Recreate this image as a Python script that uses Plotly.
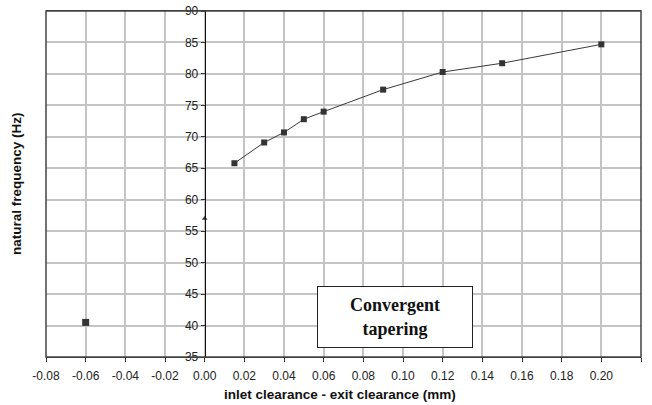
import plotly.graph_objects as go

# Data
conv_x = [0.015, 0.03, 0.04, 0.05, 0.06, 0.09, 0.12, 0.15, 0.20]
conv_y = [65.8, 69.1, 70.7, 72.8, 74.0, 77.5, 80.3, 81.7, 84.7]
div_x = [-0.06]
div_y = [40.5]
zero_x = [0.0]
zero_y = [57.0]

x_tickvals = [-0.08, -0.06, -0.04, -0.02, 0.0, 0.02, 0.04, 0.06, 0.08, 0.10,
              0.12, 0.14, 0.16, 0.18, 0.20, 0.22]
x_ticktext = ["-0.08", "-0.06", "-0.04", "-0.02", "0.00", "0.02", "0.04", "0.06",
              "0.08", "0.10", "0.12", "0.14", "0.16", "0.18", "0.20", "0.22"]
y_tickvals = [35, 40, 45, 50, 55, 60, 65, 70, 75, 80, 85, 90]

x_range = [-0.08, 0.22]
y_range = [35, 90]

W, H = 652, 405
ML, MR, MT, MB = 46, 11, 11, 48
PW, PH = W - ML - MR, H - MT - MB

fig = go.Figure()
fig.add_trace(go.Scatter(x=conv_x, y=conv_y, mode="lines+markers",
                         line=dict(color="#3a3a3a", width=1),
                         marker=dict(symbol="square", size=6, color="#333333")))
fig.add_trace(go.Scatter(x=div_x, y=div_y, mode="markers",
                         marker=dict(symbol="square", size=7, color="#333333")))
fig.add_trace(go.Scatter(x=zero_x, y=zero_y, mode="markers",
                         marker=dict(symbol="triangle-up", size=5, color="#333333")))

font_tick = dict(family="Arial, Liberation Sans, sans-serif", size=12, color="#222222")
font_title = dict(family="Arial, Liberation Sans, sans-serif", size=13.5, color="#111111")

fig.update_layout(
    width=W, height=H,
    margin=dict(l=ML, r=MR, t=MT, b=MB, autoexpand=False),
    paper_bgcolor="white", plot_bgcolor="white",
    showlegend=False,
    xaxis=dict(range=x_range, tickvals=x_tickvals, ticktext=x_ticktext,
               showgrid=True, gridcolor="#c4c4c4", gridwidth=1.5,
               showline=True, linecolor="#333333", linewidth=1, mirror=True,
               ticks="outside", ticklen=4, tickcolor="#333333",
               ticklabelstandoff=4,
               zeroline=False, tickfont=font_tick, automargin=False),
    yaxis=dict(range=y_range, tickvals=y_tickvals,
               showgrid=True, gridcolor="#c4c4c4", gridwidth=1.5,
               anchor="free", position=(0 - x_range[0]) / (x_range[1] - x_range[0]),
               showline=True, linecolor="#111111", linewidth=1,
               ticks="outside", ticklen=4, tickcolor="#333333",
               zeroline=False, tickfont=font_tick, automargin=False),
    shapes=[dict(type="rect", xref="paper", yref="paper", x0=0, x1=1, y0=0, y1=1,
                 line=dict(color="#444444", width=1.5))],
    annotations=[
        dict(x=0.096, y=41.4, xref="x", yref="y", showarrow=False,
             text="<b>Convergent<br>tapering</b>",
             font=dict(family="Liberation Serif, Times New Roman, serif", size=18, color="#111111"),
             bordercolor="#222222", borderwidth=1, bgcolor="white",
             width=152, height=58, align="center"),
        dict(x=(16 - ML) / PW, y=0.5, xref="paper", yref="paper",
             xanchor="center", yanchor="middle",
             showarrow=False, textangle=-90,
             text="<b>natural frequency (Hz)</b>", font=font_title),
        dict(x=(340 - ML) / PW, y=-(395 - MT - PH) / PH, xref="paper", yref="paper",
             xanchor="center", yanchor="middle", showarrow=False,
             text="<b>inlet clearance - exit clearance (mm)</b>", font=font_title),
    ],
)

fig.write_html("out.html")
